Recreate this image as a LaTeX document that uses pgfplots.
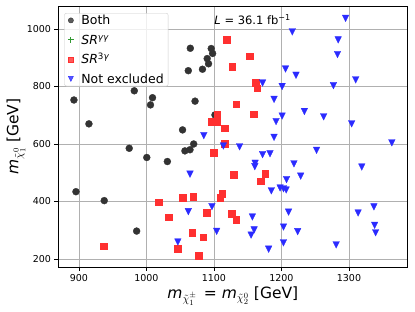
\documentclass[border=0pt]{standalone}
\usepackage{fontspec}
\setmainfont{DejaVu Sans}
\usepackage{pgfplots}
\pgfplotsset{compat=1.18}
\definecolor{cBoth}{HTML}{333333}
\definecolor{cRed}{HTML}{FF3030}
\definecolor{cBlue}{HTML}{2B2BFF}
\definecolor{cGreen}{HTML}{339933}
\definecolor{cGrid}{HTML}{B0B0B0}
\definecolor{cLeg}{HTML}{CCCCCC}
\pgfdeclareplotmark{tridown}{%
  \pgfpathmoveto{\pgfpoint{-\pgfplotmarksize}{\pgfplotmarksize}}%
  \pgfpathlineto{\pgfpoint{\pgfplotmarksize}{\pgfplotmarksize}}%
  \pgfpathlineto{\pgfpoint{0pt}{-\pgfplotmarksize}}%
  \pgfpathclose\pgfusepathqfillstroke}
\begin{document}
\begin{tikzpicture}
\useasboundingbox (-58pt,-43.7pt) rectangle (357pt,267.3pt);
\begin{axis}[
  at={(0,0)}, anchor=south west,
  scale only axis, width=349.7pt, height=261.3pt,
  xmin=869, xmax=1387, ymin=171, ymax=1080,
  xtick={900,1000,1100,1200,1300},
  ytick={200,400,600,800,1000},
  xtick pos=bottom, ytick pos=left,
  tick align=outside, major tick length=3.5pt,
  every tick/.style={black, line width=0.7pt},
  grid=major,
  major grid style={color=cGrid, line width=0.6pt},
  axis line style={black, line width=0.9pt},
  /pgf/number format/assume math mode=true,
  /pgf/number format/set thousands separator={},
  tick label style={font=\fontsize{9.5}{11}\selectfont},
  label style={font=\fontsize{15.5}{18}\selectfont},
  xlabel={\textit{m}$_{\tilde{\chi}_1^{\pm}}$\hspace{2pt} = \textit{m}$_{\tilde{\chi}_2^{0}}$ [GeV]},
  ylabel={\textit{m}$_{\tilde{\chi}_1^{0}}$ [GeV]},
  xlabel style={at={(axis description cs:0.5,-0.1175)}, anchor=base},
  ylabel style={at={(axis description cs:-0.113,0.5)}, anchor=base},
  legend image code/.code={\path (0cm,0cm) (0.42cm,0cm); \draw[mark repeat=2,mark phase=2,#1] plot coordinates {(0cm,0cm) (0.13cm,0cm) (0.42cm,0cm)};},
  legend cell align=left,
  legend style={at={(axis description cs:0.018,0.973)}, anchor=north west,
    draw=cLeg, fill=white, fill opacity=0.8, text opacity=1, rounded corners=2pt,
    font=\fontsize{12.5}{15}\selectfont,
    inner xsep=2.5pt, inner ysep=2.6pt, row sep=10.4pt,
    nodes={inner xsep=2pt, inner ysep=0pt, text height=9.1pt, text depth=0pt}},
]
% Both
\addplot[only marks, mark=*, mark size=3.5pt, mark options={fill=cBoth, draw=cBoth, line width=0.3pt}, forget plot] coordinates {
(892.6,753) (914.8,670) (895.6,434) (937.5,403) (985.5,297) (974.5,585)
(982,785) (1006,736) (1009,761) (1000.5,553) (1031,539) (1053.5,649)
(1057,576) (1064.5,580) (1070,600) (1072,749) (1062,855) (1065,933)
(1083,860) (1090,897) (1092,879) (1096,932) (1098,915) (1101.5,701)
};
% SR 3gamma
\addplot[only marks, mark=square*, mark size=3.3pt, mark options={fill=cRed, draw=cRed, line width=0.3pt}, forget plot] coordinates {
(1119,963) (1153,906) (1127,868) (1162,813) (1164,794) (1133,739)
(1159,704) (1104.5,703) (1097,678) (1104,678) (1116,655) (1116,602)
(1099.5,570) (1129,494) (1176,496) (1169,471) (1054,413) (1069,417)
(1109,413) (1112,428) (1089,361) (1126,358) (1133,336) (1068,291)
(1084,276) (1046,235) (1077,211) (1018,397) (1033,346) (937,245)
};
% Not excluded
\addplot[only marks, mark=tridown, mark size=3.3pt, mark options={fill=cBlue, draw=cBlue, line width=0.3pt}, forget plot] coordinates {
(1295,1037) (1216,990) (1284,962) (1283,911) (1206,861) (1221.5,839)
(1310,823) (1172,812) (1201,800) (1277,803) (1189,755) (1234,713)
(1201,697) (1262.5,694.5) (1192,678) (1304,670) (1085,629) (1189,623)
(1114,593) (1138,590) (1172,563) (1183,566) (1252,578) (1363.5,604)
(1161,533) (1160.5,521) (1218.5,531) (1228.5,488) (1207.5,476) (1319,520)
(1064.5,495) (1185,437) (1198,447) (1203,444) (1207,440) (1097,382)
(1062,364.5) (1157,346) (1210.5,363) (1104,296) (1159.5,301) (1155,283)
(1203,311) (1224,295) (1203,256) (1181,234) (1281,249) (1046.5,259)
(1313.5,360) (1337,381) (1338,317) (1339.5,291)
};
\addlegendimage{only marks, mark=*, mark size=2.6pt, mark options={fill=cBoth, draw=cBoth}}
\addlegendentry{Both}
\addlegendimage{only marks, mark=+, mark size=2.8pt, mark options={draw=cGreen, line width=1pt}}
\addlegendentry{\textit{SR}\textsuperscript{\textit{γγ}}}
\addlegendimage{only marks, mark=square*, mark size=2.5pt, mark options={fill=cRed, draw=cRed}}
\addlegendentry{\textit{SR}\textsuperscript{3\textit{γ}}}
\addlegendimage{only marks, mark=tridown, mark size=2.5pt, mark options={fill=cBlue, draw=cBlue}}
\addlegendentry{Not excluded}
\node[anchor=base west, inner sep=0pt, font=\fontsize{11.5}{14}\selectfont] at (axis cs:1100.5,1014) {\textit{L} = 36.1 fb\textsuperscript{−1}};
\end{axis}
\end{tikzpicture}
\end{document}
